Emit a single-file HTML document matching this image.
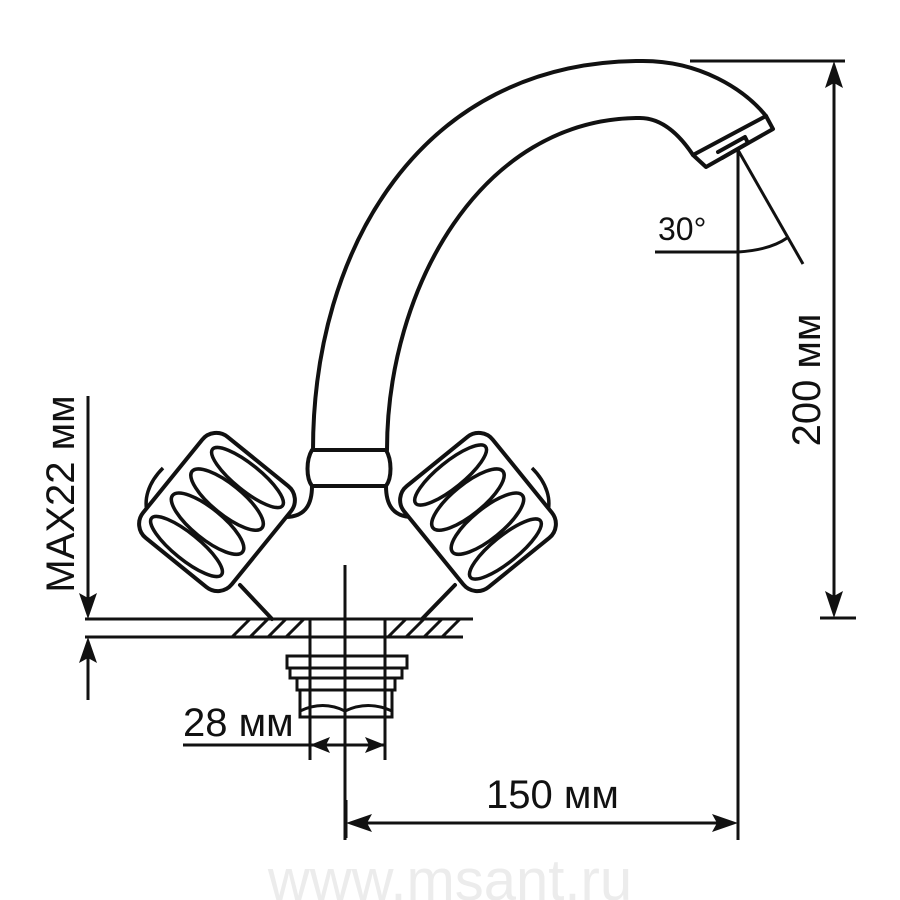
<!DOCTYPE html>
<html><head><meta charset="utf-8"><style>html,body{margin:0;padding:0;background:#fff}svg{display:block}</style></head>
<body>
<svg width="900" height="900" viewBox="0 0 900 900" xmlns="http://www.w3.org/2000/svg" font-family="Liberation Sans, sans-serif">
<defs>
<g id="handle">
  <rect x="-57" y="-65" width="114" height="130" rx="18" fill="#fff" stroke="#111" stroke-width="4"/>
  <g fill="none" stroke="#111" stroke-width="3.5">
    <ellipse cx="2" cy="-46" rx="45" ry="13"/>
    <ellipse cx="0" cy="-16" rx="45" ry="15"/>
    <ellipse cx="0" cy="15" rx="45" ry="15"/>
    <ellipse cx="-2" cy="46" rx="45" ry="13"/>
  </g>
</g>
</defs>
<g fill="none" stroke="#111" stroke-width="4" stroke-linecap="round" stroke-linejoin="round">
  <path d="M313,450 C313,250 420,62 640,61 C700,60 745,90 766,116"/>
  <path d="M387,450 C387,290 480,118 640,118 C665,118 683,140 693,155"/>
  <path d="M693,155 L766,116 L773,129 L706,167 Z"/>
  <path d="M718,152 L745,137 L748,143 L722,158"/>
  <path d="M312,450 L386,450 C392,460 392,478 386,486 L312,486 C306,478 306,460 312,450 Z"/>
  <path d="M312,486 C312,505 305,517 285,517"/>
  <path d="M386,486 C386,505 393,517 413,517"/>
  <path d="M240,585 L272,619"/>
  <path d="M455,585 L422,619"/>
</g>
<path d="M163,468 C148,483 143,500 148,515" fill="none" stroke="#111" stroke-width="3.5"/>
<path d="M532,468 C547,483 552,500 547,515" fill="none" stroke="#111" stroke-width="3.5"/>
<use href="#handle" transform="translate(217,512) rotate(39)"/>
<use href="#handle" transform="translate(478,512) rotate(-39)"/>
<g fill="none" stroke="#111" stroke-width="3">
  <line x1="85" y1="619" x2="473" y2="619"/>
  <line x1="85" y1="637" x2="463" y2="637"/>
  <path d="M232,637 L250,619 M250,637 L268,619 M268,637 L286,619 M286,637 L304,619 M388,637 L406,619 M406,637 L424,619 M424,637 L442,619 M442,637 L460,619"/>
  <line x1="310" y1="619" x2="310" y2="760"/>
  <line x1="385" y1="619" x2="385" y2="760"/>
  <path d="M287,656 L407,656 L407,668 L402,668 L402,678 L395,678 L395,690 L392,690 L392,717 L300,717 L300,690 L297,690 L297,678 L290,678 L290,668 L287,668 Z"/>
  <line x1="287" y1="668" x2="407" y2="668"/>
  <line x1="290" y1="678" x2="402" y2="678"/>
  <line x1="297" y1="690" x2="395" y2="690"/>
  <path d="M300,711 Q323,700 345,711 Q368,700 392,711"/>
  <line x1="345" y1="565" x2="345" y2="840"/>
  <line x1="183" y1="745" x2="385" y2="745"/>
  <line x1="346" y1="800" x2="346" y2="838"/>
  <line x1="738" y1="150" x2="738" y2="840"/>
  <line x1="350" y1="823" x2="734" y2="823"/>
  <line x1="738" y1="150" x2="803" y2="264"/>
  <line x1="655" y1="252" x2="738" y2="252"/>
  <path d="M738,252 Q770,250 787,238"/>
  <line x1="690" y1="61" x2="845" y2="61"/>
  <line x1="820" y1="618" x2="856" y2="618"/>
  <line x1="834" y1="70" x2="834" y2="610"/>
  <line x1="88" y1="396" x2="88" y2="610"/>
  <line x1="88" y1="645" x2="88" y2="700"/>
</g>
<g fill="#111">
  <polygon points="310,745 330,737 326,745 330,753"/>
  <polygon points="385,745 365,737 369,745 365,753"/>
  <polygon points="346,823 372,814 367,823 372,832"/>
  <polygon points="738,823 712,814 717,823 712,832"/>
  <polygon points="834,61 825,88 834,83 843,88"/>
  <polygon points="834,618 825,591 834,596 843,591"/>
  <polygon points="88,619 79,593 88,598 97,593"/>
  <polygon points="88,637 79,663 88,658 97,663"/>
</g>
<g fill="#111" font-size="40">
  <text x="183" y="736" font-size="40">28 мм</text>
  <text x="486" y="808">150 мм</text>
  <text x="658" y="240" font-size="32">30°</text>
  <text transform="translate(820,380) rotate(-90)" text-anchor="middle">200 мм</text>
  <text transform="translate(74,494) rotate(-90)" text-anchor="middle">MAX22 мм</text>
</g>
<text x="450" y="900" text-anchor="middle" font-size="58" fill="#ececec">www.msant.ru</text>
</svg>
</body></html>
